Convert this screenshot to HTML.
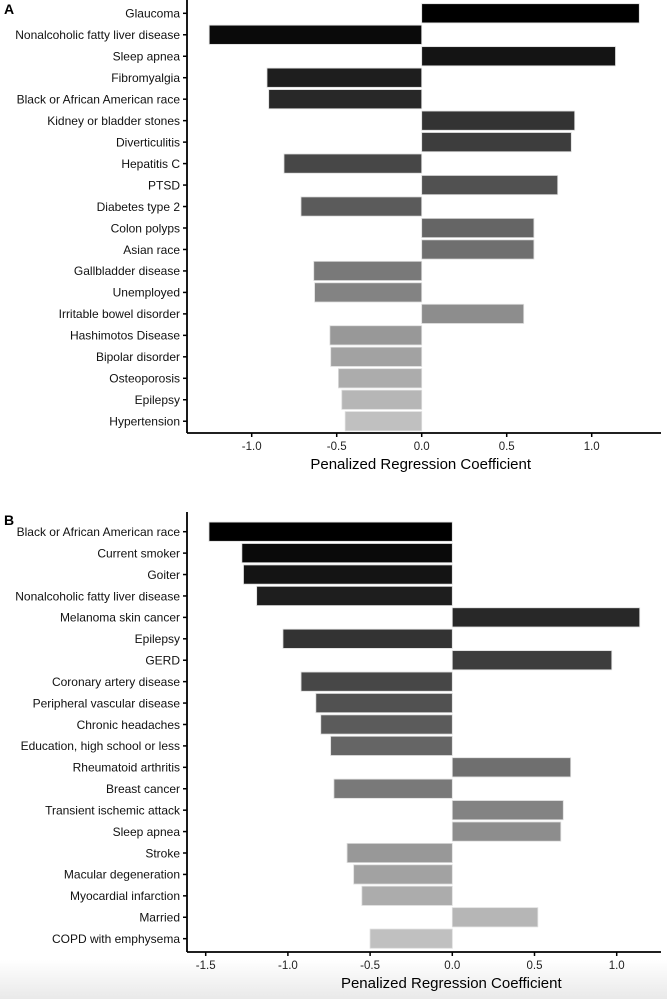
<!DOCTYPE html>
<html><head><meta charset="utf-8"><style>
html,body{margin:0;padding:0;background:#fff;}
body{width:667px;height:999px;overflow:hidden;position:relative;font-family:"Liberation Sans",Arial,sans-serif;}
#bg{position:absolute;left:0;top:960px;width:667px;height:39px;background:linear-gradient(#fff,#e9e9e9);}
svg{position:absolute;left:0;top:0;}
</style></head><body>
<div id="bg"></div>
<svg id="chart" width="667" height="999"></svg>
<script>
const catsA = ["Glaucoma","Nonalcoholic fatty liver disease","Sleep apnea","Fibromyalgia","Black or African American race","Kidney or bladder stones","Diverticulitis","Hepatitis C","PTSD","Diabetes type 2","Colon polyps","Asian race","Gallbladder disease","Unemployed","Irritable bowel disorder","Hashimotos Disease","Bipolar disorder","Osteoporosis","Epilepsy","Hypertension"];
const valsA = [1.28,-1.25,1.14,-0.91,-0.90,0.90,0.88,-0.81,0.80,-0.71,0.66,0.66,-0.635,-0.63,0.60,-0.54,-0.535,-0.49,-0.47,-0.45];
const ticksA = [-1.0,-0.5,0.0,0.5,1.0];
const catsB = ["Black or African American race","Current smoker","Goiter","Nonalcoholic fatty liver disease","Melanoma skin cancer","Epilepsy","GERD","Coronary artery disease","Peripheral vascular disease","Chronic headaches","Education, high school or less","Rheumatoid arthritis","Breast cancer","Transient ischemic attack","Sleep apnea","Stroke","Macular degeneration","Myocardial infarction","Married","COPD with emphysema"];
const valsB = [-1.48,-1.28,-1.27,-1.19,1.14,-1.03,0.97,-0.92,-0.83,-0.80,-0.74,0.72,-0.72,0.675,0.66,-0.64,-0.60,-0.55,0.52,-0.50];
const ticksB = [-1.5,-1.0,-0.5,0.0,0.5,1.0];

const NS="http://www.w3.org/2000/svg";
const svg=document.getElementById('chart');
function mk(tag,attrs,parent){const e=document.createElementNS(NS,tag);for(const k in attrs)e.setAttribute(k,attrs[k]);(parent||svg).appendChild(e);return e;}

function panel(id,letter,cats,vals,ticks,cfg){
  const g=mk('g',{});
  
  
  const x=v=>cfg.zero+v*cfg.scale;
  const y=i=>cfg.row0+i*cfg.pitch;
  const n=cats.length;
  const L=mk('text',{x:4,y:cfg.letterY,'font-size':14,'font-weight':'bold',fill:'#000'},g);
  L.textContent=letter;
  
  
  cats.forEach((c,i)=>{
    const v=vals[i];
    const gray=Math.round(i/(n-1)*192);
    const col='rgb('+gray+','+gray+','+gray+')';
    const x0=Math.min(x(0),x(v)), w=Math.abs(x(v)-x(0));
    const r=mk('rect',{x:x0,y:y(i)-9.6,width:w,height:19.2,fill:col,stroke:'#ddd','stroke-width':0.8},g);
    
    
    const t=mk('text',{x:180,y:y(i)+4.3,'font-size':12,'text-anchor':'end',fill:'#111'},g);
    t.textContent=c;
    
    
    const tk=mk('line',{x1:cfg.axisX-4,x2:cfg.axisX,y1:y(i),y2:y(i),stroke:'#000','stroke-width':1.5},g);
    
    
  });
  const ya=mk('line',{x1:cfg.axisX,x2:cfg.axisX,y1:cfg.axisTop,y2:cfg.axisY,stroke:'#000','stroke-width':1.8},g);
  
  
  const xa=mk('line',{x1:cfg.axisX,x2:661,y1:cfg.axisY,y2:cfg.axisY,stroke:'#000','stroke-width':1.8},g);
  
  
  ticks.forEach(tv=>{
    const l=mk('line',{x1:x(tv),x2:x(tv),y1:cfg.axisY,y2:cfg.axisY+4,stroke:'#000','stroke-width':1.5},g);
    
    
    const t=mk('text',{x:x(tv),y:cfg.axisY+17,'font-size':11.5,'text-anchor':'middle',fill:'#222'},g);
    t.textContent=tv.toFixed(1);
    
    
  });
  const at=mk('text',{x:x(0)-1,y:cfg.axisY+36,'font-size':15,'text-anchor':'middle',fill:'#000'},g);
  at.textContent='Penalized Regression Coefficient';
  
  
}
panel('a','A',catsA,valsA,ticksA,{zero:421.7,scale:170,row0:13.3,pitch:21.47,axisX:187,axisTop:0,axisY:433,letterY:14});
panel('b','B',catsB,valsB,ticksB,{zero:452.3,scale:164.4,row0:531.7,pitch:21.42,axisX:187,axisTop:512,axisY:952,letterY:525});
</script>
</body></html>
